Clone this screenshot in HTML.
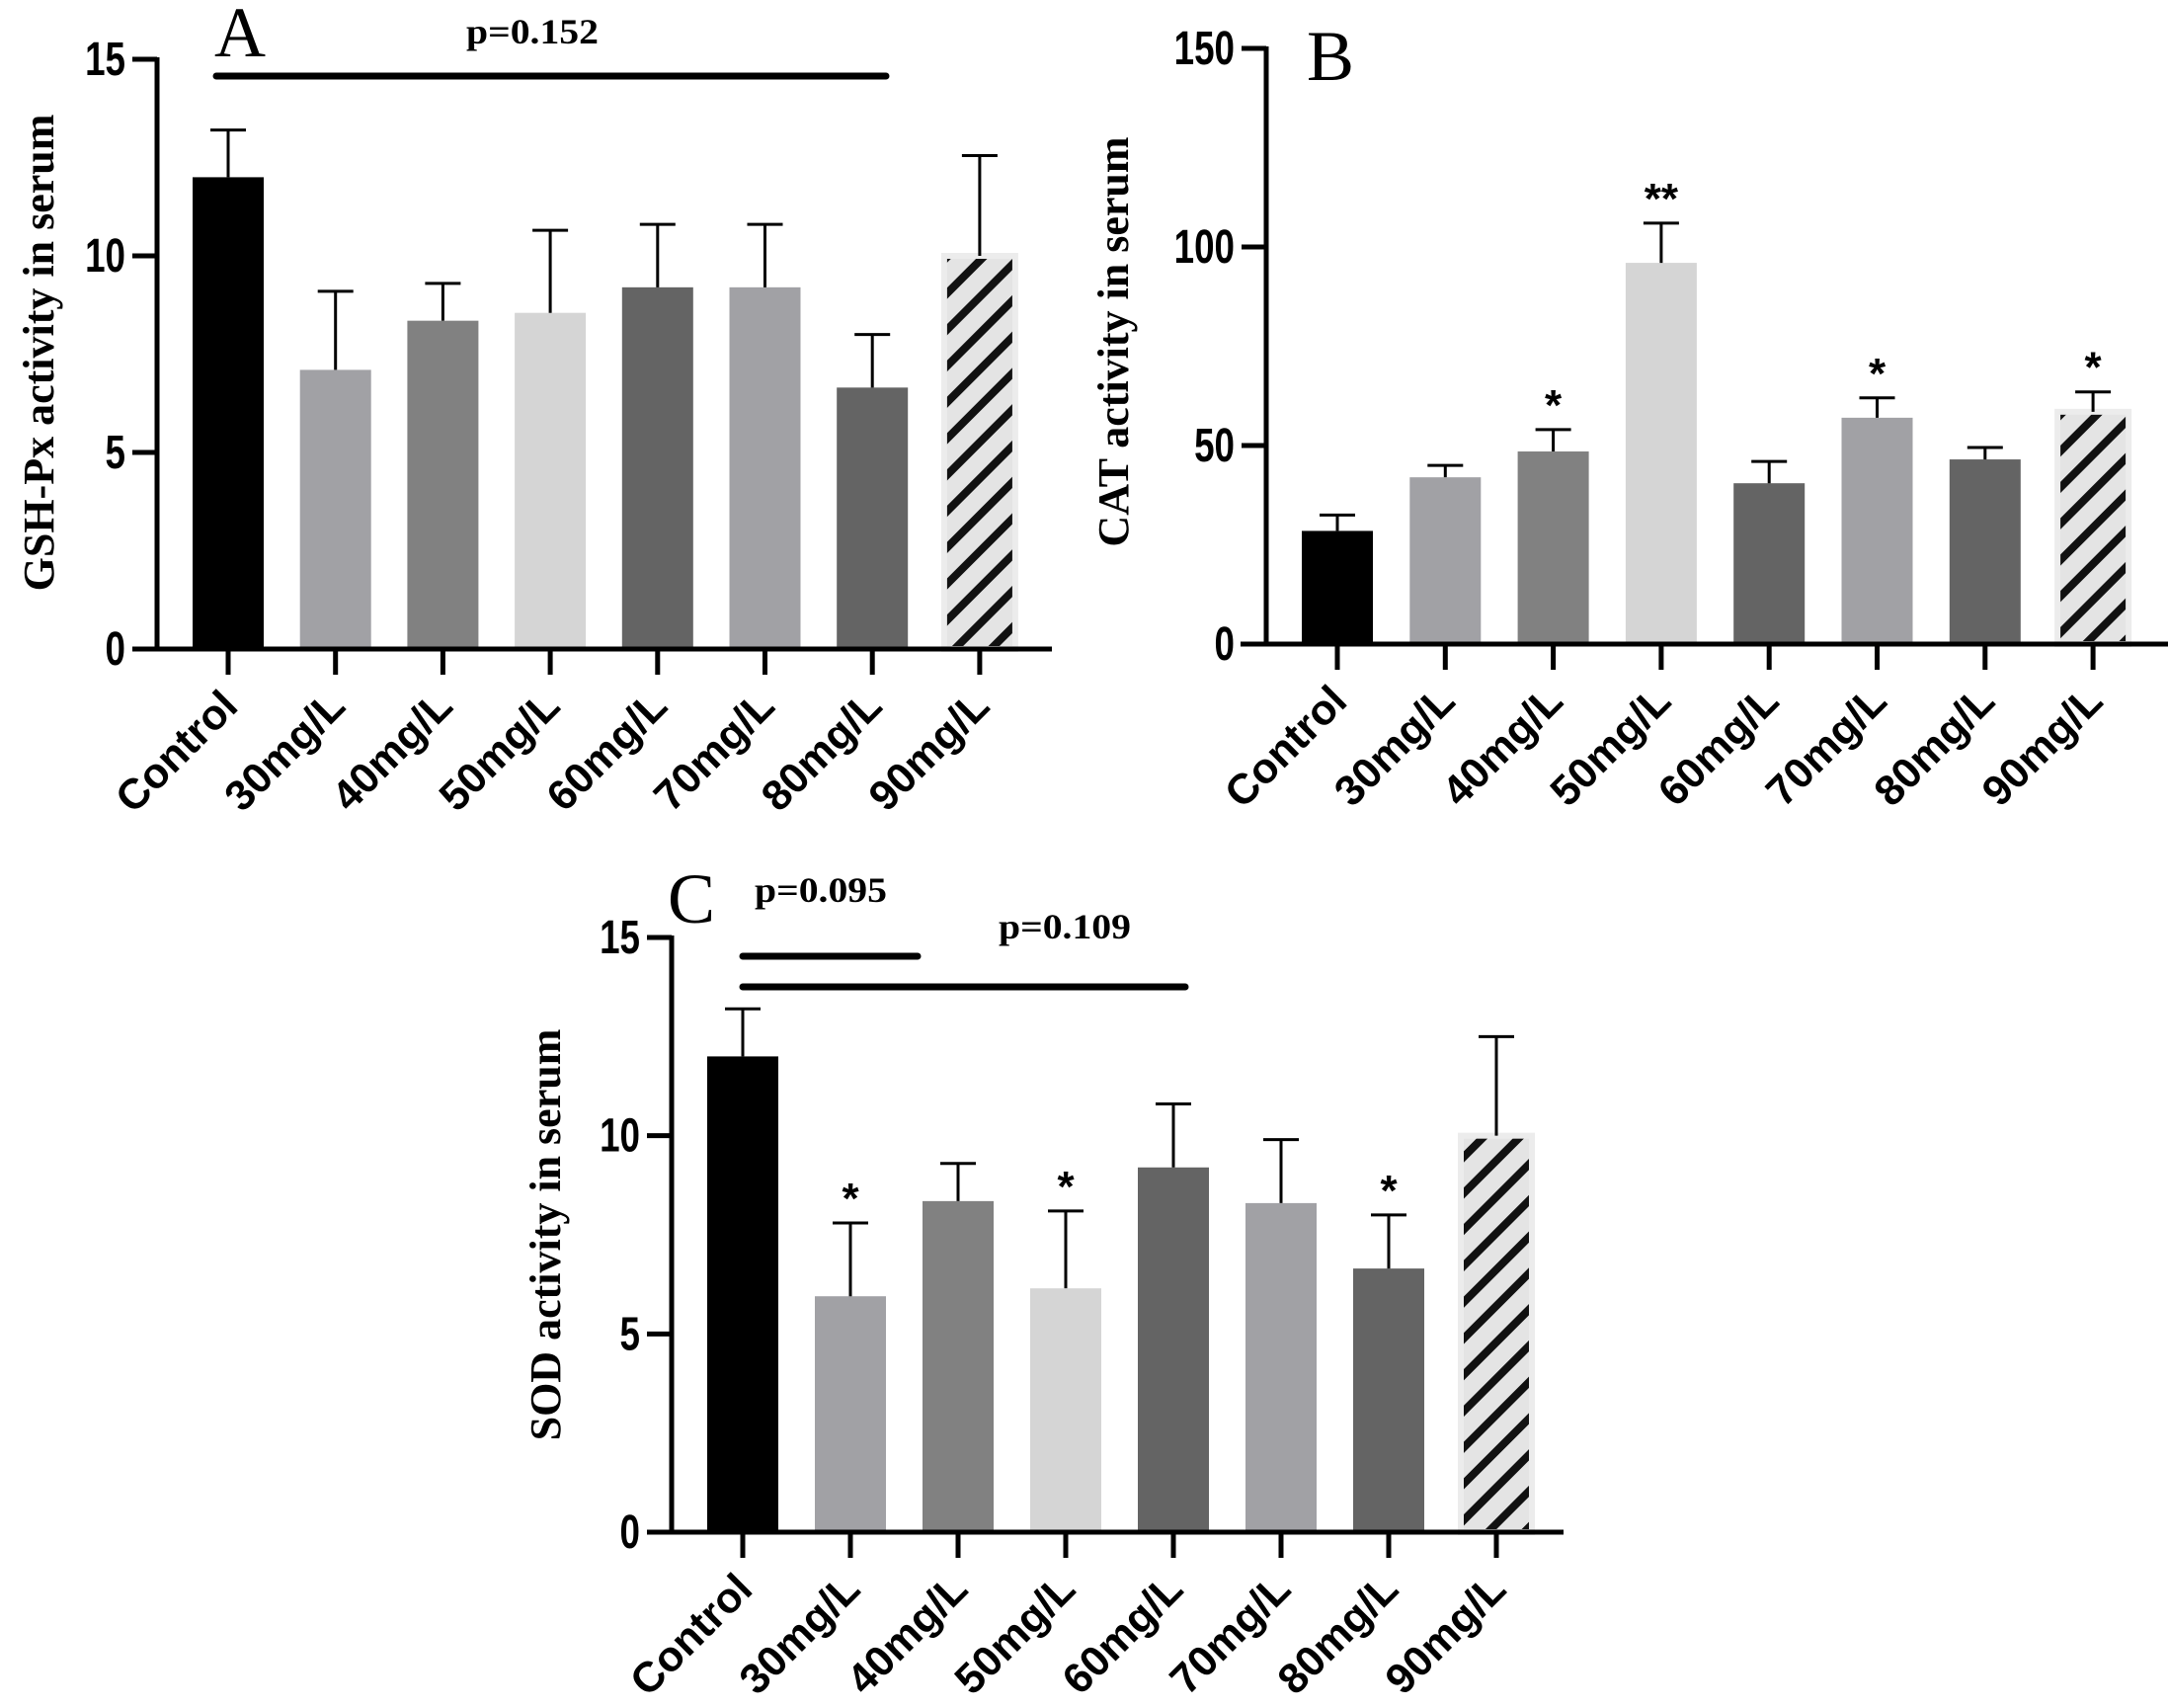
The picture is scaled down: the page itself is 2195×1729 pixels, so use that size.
<!DOCTYPE html>
<html><head><meta charset="utf-8"><style>
html,body{margin:0;padding:0;background:#fff;}
svg{display:block;}
</style></head><body>
<svg id="fig" width="2195" height="1729" viewBox="0 0 2195 1729" xmlns="http://www.w3.org/2000/svg">
<defs>
<pattern id="hatch" patternUnits="userSpaceOnUse" width="26" height="26" patternTransform="rotate(45)">
<rect width="26" height="26" fill="#e4e4e4"/>
<rect x="0" y="0" width="8" height="26" fill="#111"/>
</pattern>
</defs>
</svg>
<script>
const categories = ["Control","30mg/L","40mg/L","50mg/L","60mg/L","70mg/L","80mg/L","90mg/L"];
const gshMeans = [12.0, 7.1, 8.35, 8.55, 9.2, 9.2, 6.65, 10.0];
const gshUpper = [13.2, 9.1, 9.3, 10.65, 10.8, 10.8, 8.0, 12.55];
const catMeans = [28.5, 42, 48.5, 96, 40.5, 57, 46.5, 58.5];
const catUpper = [32.5, 45, 54, 106, 46, 62, 49.5, 63.5];
const catStars = ["", "", "*", "**", "", "*", "", "*"];
const sodMeans = [12.0, 5.95, 8.35, 6.15, 9.2, 8.3, 6.65, 10.0];
const sodUpper = [13.2, 7.8, 9.3, 8.1, 10.8, 9.9, 8.0, 12.5];
const sodStars = ["", "*", "", "*", "", "", "*", ""];
const gshTicks = [0, 5, 10, 15];
const catTicks = [0, 50, 100, 150];
const sodTicks = [0, 5, 10, 15];

const barColors = ["#000000","#a1a1a5","#818181","#d5d5d5","#646464","#a1a1a5","#646464","url(#hatch)"];
const NS = "http://www.w3.org/2000/svg";
const svg = document.getElementById("fig");
function mk(tag, attrs, parent){
  const e = document.createElementNS(NS, tag);
  for (const k in attrs) e.setAttribute(k, attrs[k]);
  (parent||svg).appendChild(e);
  return e;
}

function panel(p){
  const g = mk("g", {});
  
  
  const y = v => p.y0 + (p.yTop - p.y0) * v / p.max;
  const x = i => p.x0c + i * p.step;
  p.means.forEach((m, i) => {
    const r = mk("rect", {x: x(i) - 36, y: y(m), width: 72, height: p.y0 - y(m), fill: barColors[i]}, g);
    
    
    if (i === 7) mk("rect", {x: x(i) - 36, y: y(m), width: 72, height: p.y0 - y(m), fill: "none", stroke: "#ececec", "stroke-width": 6}, g);
    const eb = mk("path", {d: `M${x(i)},${y(m)} V${y(p.upper[i])} M${x(i)-18},${y(p.upper[i])} H${x(i)+18}`, stroke: "#000", "stroke-width": 3, fill: "none"}, g);
    
    
    if (p.stars && p.stars[i]) {
      const s = mk("text", {x: x(i), y: y(p.upper[i]) - 10, "text-anchor": "middle", "font-family": "Liberation Sans, sans-serif", "font-size": 44, "font-weight": "bold"}, g);
      s.textContent = p.stars[i];
      
      
    }
  });
  const ax = mk("path", {d: `M${p.xAxis},${p.yTop - 2} V${p.y0} M${p.xStart},${p.y0} H${p.xEnd}`, stroke: "#000", "stroke-width": 5, fill: "none"}, g);
  
  
  p.ticks.forEach(t => {
    mk("line", {x1: p.xAxis - 25, x2: p.xAxis, y1: y(t), y2: y(t), stroke: "#000", "stroke-width": 5}, g);
    const tl = mk("text", {x: 0, y: 0, "text-anchor": "end", transform: `translate(${p.xAxis - 32} ${y(t) + 16}) scale(0.92 1.2)`, "font-family": "Liberation Sans, sans-serif", "font-size": 40, "font-weight": "bold"}, g);
    tl.textContent = t;
    
    
  });
  categories.forEach((c, i) => {
    mk("line", {x1: x(i), x2: x(i), y1: p.y0, y2: p.y0 + 26, stroke: "#000", "stroke-width": 5}, g);
    const ax2 = x(i) + 12, ay = p.y0 + 60;
    const t = mk("text", {x: ax2, y: ay, "text-anchor": "end", transform: `rotate(-45 ${ax2} ${ay})`, "font-family": "Liberation Sans, sans-serif", "font-size": 43, "font-weight": "bold"}, g);
    t.textContent = c;
    
    
  });
  const yl = mk("text", {x: p.ylx, y: p.yly, "text-anchor": "middle", transform: `rotate(-90 ${p.ylx} ${p.yly})`, "font-family": "Liberation Serif, serif", "font-size": 44, "font-weight": "bold"}, g);
  yl.textContent = p.ylabel;
  
  
  const pl = mk("text", {x: p.lx, y: p.ly, "font-family": "Liberation Serif, serif", "font-size": 72}, g);
  pl.textContent = p.letter;
  
  
  return g;
}

const gA = panel({name: "panel-a-gsh-px", means: gshMeans, upper: gshUpper, ticks: gshTicks, max: 15,
  x0c: 231, step: 108.7, y0: 657, yTop: 60, xAxis: 159, xStart: 134, xEnd: 1065,
  ylabel: "GSH-Px activity in serum", ylx: 54, yly: 357, letter: "A", lx: 217, ly: 57});
const gB = panel({name: "panel-b-cat", means: catMeans, upper: catUpper, stars: catStars, ticks: catTicks, max: 150,
  x0c: 1354, step: 109.3, y0: 652, yTop: 49, xAxis: 1282, xStart: 1256, xEnd: 2195,
  ylabel: "CAT activity in serum", ylx: 1142, yly: 346, letter: "B", lx: 1323, ly: 81});
const gC = panel({name: "panel-c-sod", means: sodMeans, upper: sodUpper, stars: sodStars, ticks: sodTicks, max: 15,
  x0c: 752, step: 109, y0: 1551, yTop: 949, xAxis: 680, xStart: 655, xEnd: 1583,
  ylabel: "SOD activity in serum", ylx: 567, yly: 1250, letter: "C", lx: 676, ly: 934});

function sig(g, x1, x2, yy, label, tx, ty){
  const l = mk("line", {x1: x1, x2: x2, y1: yy, y2: yy, stroke: "#000", "stroke-width": 7, "stroke-linecap": "round"}, g);
  
  
  const t = mk("text", {x: tx, y: ty, "font-family": "Liberation Serif, serif", "font-size": 36, "font-weight": "bold", textLength: 134, lengthAdjust: "spacingAndGlyphs"}, g);
  t.textContent = label;
  
  
}
sig(gA, 219, 897, 77, "p=0.152", 472, 44);
sig(gC, 752, 929, 968, "p=0.095", 764, 913);
sig(gC, 752, 1200, 999, "p=0.109", 1011, 950);
</script>
</body></html>
